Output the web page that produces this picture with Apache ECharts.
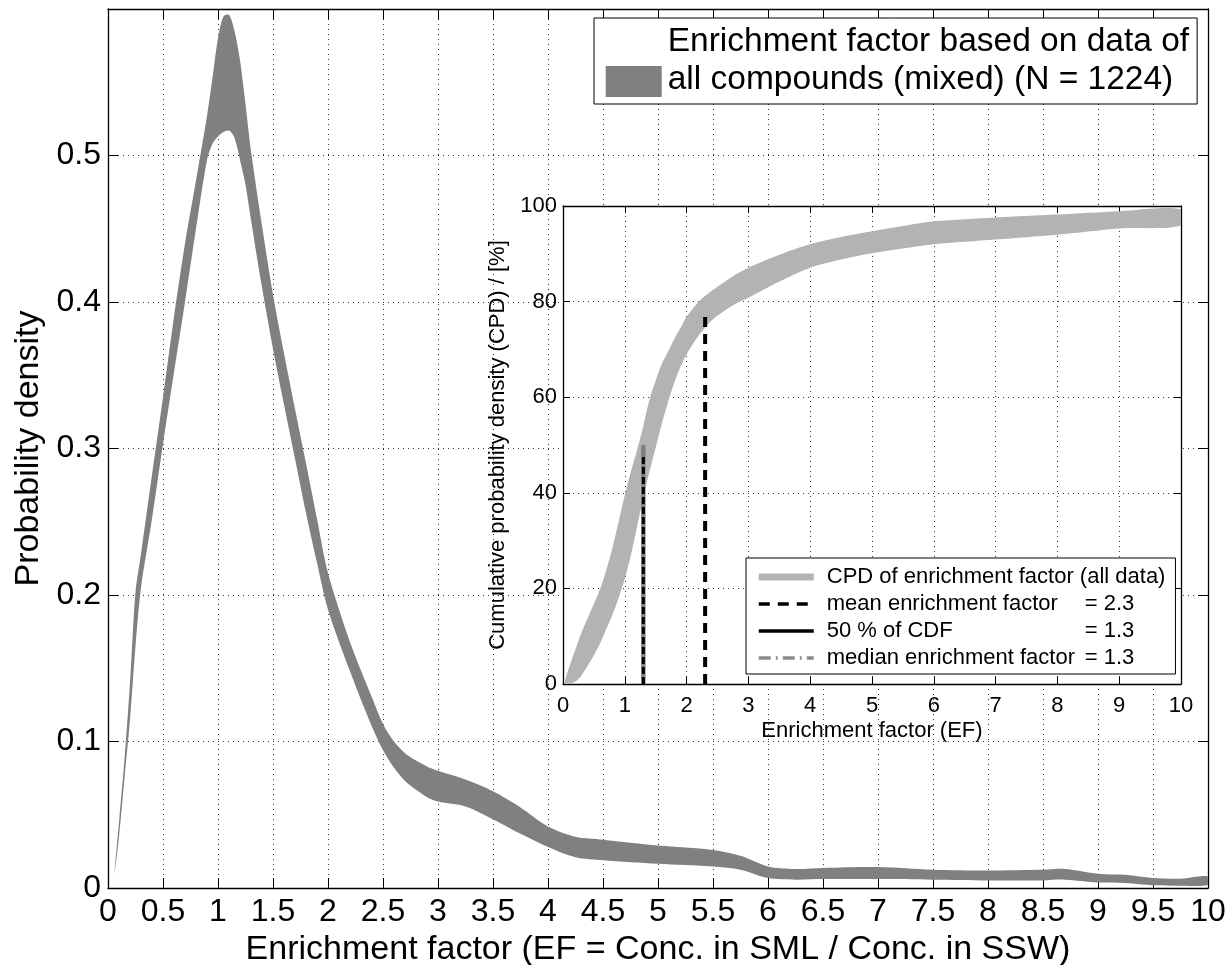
<!DOCTYPE html>
<html>
<head>
<meta charset="utf-8">
<script src="https://cdn.jsdelivr.net/npm/echarts@6/dist/echarts.min.js"></script>
<style>html,body{margin:0;padding:0;background:#fff}#c{width:1229px;height:965px}</style>
</head>
<body>
<div id="c"></div>
<script>
// ---------- main chart: probability density band ----------
const mainX = [0.06, 0.1, 0.15, 0.2, 0.25, 0.3, 0.4, 0.5, 0.6, 0.7, 0.8, 0.9, 0.95, 1.0, 1.05, 1.1, 1.15, 1.2, 1.25, 1.3, 1.4, 1.5, 1.6, 1.7, 1.8, 1.9, 2.0, 2.2, 2.4, 2.5, 2.6, 2.7, 2.8, 2.9, 3.0, 3.25, 3.5, 3.75, 4.0, 4.25, 4.5, 5.0, 5.5, 5.75, 6.0, 6.25, 6.5, 7.0, 7.5, 8.0, 8.5, 8.7, 9.0, 9.25, 9.5, 9.75, 10];
const mainUpper = [0.012, 0.045, 0.088, 0.14, 0.202, 0.228, 0.282, 0.335, 0.39, 0.44, 0.483, 0.527, 0.553, 0.580, 0.595, 0.596, 0.585, 0.565, 0.535, 0.503, 0.452, 0.405, 0.365, 0.327, 0.29, 0.252, 0.215, 0.168, 0.130, 0.112, 0.100, 0.092, 0.087, 0.083, 0.080, 0.074, 0.066, 0.055, 0.042, 0.035, 0.033, 0.029, 0.026, 0.022, 0.0147, 0.013, 0.0137, 0.0143, 0.0125, 0.012, 0.0125, 0.013, 0.0098, 0.009, 0.0068, 0.0063, 0.0079];
const mainLower = [0.010, 0.035, 0.075, 0.115, 0.165, 0.205, 0.252, 0.303, 0.352, 0.400, 0.450, 0.497, 0.508, 0.513, 0.516, 0.517, 0.512, 0.497, 0.48, 0.456, 0.41, 0.368, 0.33, 0.293, 0.256, 0.222, 0.19, 0.148, 0.110, 0.094, 0.082, 0.073, 0.067, 0.062, 0.059, 0.0557, 0.047, 0.037, 0.028, 0.021, 0.019, 0.0166, 0.0147, 0.0125, 0.0068, 0.0057, 0.0061, 0.0061, 0.0057, 0.0052, 0.0052, 0.0057, 0.0038, 0.0034, 0.0018, 0.0016, 0.0023];
const mainLegendLines = ['Enrichment factor based on data of', 'all compounds (mixed) (N = 1224)'];
const mainSeriesName = 'Enrichment factor based on data of all compounds (mixed) (N = 1224)';
const mainXTitle = 'Enrichment factor (EF = Conc. in SML / Conc. in SSW)';
const mainYTitle = 'Probability density';

// ---------- inset: cumulative probability density band ----------
const cpdX = [0.02, 0.05, 0.1, 0.2, 0.3, 0.4, 0.5, 0.6, 0.7, 0.8, 0.9, 1.0, 1.1, 1.2, 1.3, 1.4, 1.5, 1.6, 1.7, 1.8, 1.9, 2.0, 2.2, 2.4, 2.6, 2.8, 3.0, 3.5, 4.0, 4.5, 5.0, 5.5, 6.0, 7.0, 8.0, 9.0, 10.0];
const cpdUpper = [0, 1.5, 3.5, 7.2, 10.8, 13.8, 16.8, 19.8, 23.8, 28.5, 34, 39.5, 44.5, 49, 54, 59.5, 63.5, 67, 69.5, 72.2, 74.5, 76.8, 80, 82.2, 84, 85.7, 87.1, 89.8, 92.0, 93.5, 94.7, 95.8, 96.8, 97.6, 98.2, 98.9, 99.3];
const cpdLower = [0, 0, 0, 0.5, 1.8, 3.8, 6, 8.5, 11.5, 14.5, 18, 22, 27, 33, 39, 44.5, 49.5, 54.5, 59, 63, 66.3, 69, 73, 76, 78, 79.6, 80.8, 84.2, 87.1, 88.8, 90.1, 91.1, 92.0, 93.0, 94.0, 95.3, 95.9];
const meanEF = 2.3, meanTop = 76.8;
const cdf50EF = 1.3, cdf50Top = 48;
const medianEF = 1.3, medianTop = 50;
const insetNames = ['CPD of enrichment factor (all data)', 'mean enrichment factor', '50 % of CDF', 'median enrichment factor'];
const insetValues = ['', '= 2.3', '= 1.3', '= 1.3'];
const insetXTitle = 'Enrichment factor (EF)';
const insetYTitle = 'Cumulative probability density (CPD) / [%]';

const FONT = '"Liberation Sans", Arial, Helvetica, sans-serif';
const dotted = { color: '#333', width: 1, type: [1, 4] };

function axisBase(extra) {
  return Object.assign({
    type: 'value',
    axisLine: { show: true, onZero: false, lineStyle: { color: '#000', width: 1.3 } },
    axisTick: { show: true, inside: true, length: 10, lineStyle: { color: '#000', width: 1 } },
    splitLine: { show: false },
    axisLabel: { show: false }
  }, extra);
}

// band drawn as one polygon through the axes' coordinate system
function bandRenderer(xs, lo, hi, color) {
  return function (params, api) {
    if (params.dataIndex !== 0) return null;
    const pts = [];
    for (let i = 0; i < xs.length; i++) pts.push(api.coord([xs[i], hi[i]]));
    for (let i = xs.length - 1; i >= 0; i--) pts.push(api.coord([xs[i], lo[i]]));
    return {
      type: 'polygon',
      shape: { points: pts, smooth: 0.3 },
      style: { fill: color, stroke: null }
    };
  };
}

const chart = echarts.init(document.getElementById('c'), null, { renderer: 'canvas' });

const option = {
  backgroundColor: '#fff',
  animation: false,
  textStyle: { fontFamily: FONT, color: '#000' },
  grid: [
    { left: 108, right: 21, top: 9, bottom: 77, z: 0, containLabel: false, outerBoundsMode: 'none' },
    { left: 563, right: 48, top: 206, bottom: 281, show: true, backgroundColor: '#fff', borderWidth: 0, z: 5,
      containLabel: false, outerBoundsMode: 'none' }
  ],
  xAxis: [
    axisBase({ gridIndex: 0, position: 'bottom', min: 0, max: 10, interval: 0.5, z: 1,
      splitLine: { show: true, lineStyle: dotted },
      axisLabel: { show: true, fontSize: 32, color: '#000', fontFamily: FONT, margin: 8 },
      name: mainXTitle, nameLocation: 'middle', nameGap: 37,
      nameTextStyle: { fontSize: 34, color: '#000', fontFamily: FONT } }),
    axisBase({ gridIndex: 0, position: 'top', min: 0, max: 10, interval: 0.5, z: 1 }),
    axisBase({ gridIndex: 1, position: 'bottom', min: 0, max: 10, interval: 1, z: 6,
      axisTick: { show: true, inside: true, length: 7, lineStyle: { color: '#000' } },
      splitLine: { show: true, lineStyle: dotted },
      axisLabel: { show: true, fontSize: 22, color: '#000', fontFamily: FONT, margin: 11 },
      name: insetXTitle, nameLocation: 'middle', nameGap: 36,
      nameTextStyle: { fontSize: 22, color: '#000', fontFamily: FONT } }),
    axisBase({ gridIndex: 1, position: 'top', min: 0, max: 10, interval: 1, z: 6,
      axisTick: { show: true, inside: true, length: 7, lineStyle: { color: '#000' } } })
  ],
  yAxis: [
    axisBase({ gridIndex: 0, position: 'left', min: 0, max: 0.6, interval: 0.1, z: 1,
      splitLine: { show: true, lineStyle: dotted },
      axisLabel: { show: true, fontSize: 32, color: '#000', fontFamily: FONT, margin: 7,
        formatter: v => (v > 0.55 ? '' : String(Math.round(v * 10) / 10)) },
      name: mainYTitle, nameLocation: 'middle', nameGap: 61, nameRotate: 90,
      nameTextStyle: { fontSize: 34, color: '#000', fontFamily: FONT } }),
    axisBase({ gridIndex: 0, position: 'right', min: 0, max: 0.6, interval: 0.1, z: 1 }),
    axisBase({ gridIndex: 1, position: 'left', min: 0, max: 100, interval: 20, z: 6,
      axisTick: { show: true, inside: true, length: 7, lineStyle: { color: '#000' } },
      splitLine: { show: true, lineStyle: dotted },
      axisLabel: { show: true, fontSize: 22, color: '#000', fontFamily: FONT, margin: 6 },
      name: insetYTitle, nameLocation: 'middle', nameGap: 50, nameRotate: 90,
      nameTextStyle: { fontSize: 22, color: '#000', fontFamily: FONT } }),
    axisBase({ gridIndex: 1, position: 'right', min: 0, max: 100, interval: 20, z: 6,
      axisTick: { show: true, inside: true, length: 7, lineStyle: { color: '#000' } } })
  ],
  legend: [
    {
      data: [{ name: mainSeriesName, itemStyle: { color: '#808080', opacity: 1 } }],
      left: 594, top: 18, orient: 'vertical',
      backgroundColor: '#fff', borderColor: '#000', borderWidth: 1,
      padding: [4.5, 8, 4.7, 11.7],
      icon: 'path://M0,0h0.1v0.1h-0.1z M0,41h56v31h-56z',
      symbolKeepAspect: false,
      itemWidth: 56, itemHeight: 72,
      selectedMode: false,
      formatter: () => mainLegendLines.join('\n'),
      textStyle: { fontSize: 33.5, lineHeight: 38.4, color: '#000', fontFamily: FONT, padding: [0, 0, 0, 1] },
      z: 10
    },
    {
      data: [
        { name: insetNames[0], icon: 'path://M0,0h0.1v0.1h-0.1z M0,3.5h55v7h-55z M0,13.9h0.1v0.1h-0.1z',
          itemStyle: { color: '#b3b3b3', opacity: 1 } },
        { name: insetNames[1], lineStyle: { color: '#000', width: 3.5, type: [11, 8], opacity: 1 } },
        { name: insetNames[2], lineStyle: { color: '#000', width: 3.5, type: 'solid', opacity: 1 } },
        { name: insetNames[3], lineStyle: { color: '#8c8c8c', width: 3.5, type: [12, 5, 2, 5], opacity: 1 } }
      ],
      left: 746, top: 558, orient: 'vertical',
      backgroundColor: '#fff', borderColor: '#000', borderWidth: 1,
      padding: [7, 10, 4, 11],
      itemWidth: 55, itemHeight: 14, itemGap: 3,
      symbolKeepAspect: false,
      itemStyle: { opacity: 0 },
      selectedMode: false,
      formatter: name => {
        const i = insetNames.indexOf(name);
        return insetValues[i] ? '{a|' + name + '}{b|' + insetValues[i] + '}' : '{a|' + name + '}';
      },
      textStyle: {
        fontSize: 22, lineHeight: 24, color: '#000', fontFamily: FONT, padding: [0, 0, 0, 8],
        rich: {
          a: { fontSize: 22, fontFamily: FONT, color: '#000', width: 258 },
          b: { fontSize: 22, fontFamily: FONT, color: '#000' }
        }
      },
      z: 12
    }
  ],
  series: [
    {
      name: mainSeriesName, type: 'custom', coordinateSystem: 'cartesian2d',
      xAxisIndex: 0, yAxisIndex: 0, clip: true, silent: true,
      itemStyle: { color: '#808080' },
      data: mainX.map((x, i) => [x, mainLower[i], mainUpper[i]]),
      encode: { x: 0, y: [1, 2] },
      renderItem: bandRenderer(mainX, mainLower, mainUpper, '#808080'),
      z: 2
    },
    {
      name: insetNames[0], type: 'custom', coordinateSystem: 'cartesian2d',
      xAxisIndex: 2, yAxisIndex: 2, clip: true, silent: true,
      itemStyle: { color: '#b3b3b3' },
      data: cpdX.map((x, i) => [x, cpdLower[i], cpdUpper[i]]),
      encode: { x: 0, y: [1, 2] },
      renderItem: bandRenderer(cpdX, cpdLower, cpdUpper, '#b3b3b3'),
      z: 7
    },
    {
      name: insetNames[3], type: 'line', xAxisIndex: 2, yAxisIndex: 2,
      data: [[medianEF, 0], [medianEF, medianTop]],
      symbol: 'none', silent: true,
      itemStyle: { color: '#808080' },
      lineStyle: { color: '#808080', width: 4.5, type: 'solid', cap: 'butt' }, z: 8
    },
    {
      name: insetNames[2], type: 'line', xAxisIndex: 2, yAxisIndex: 2,
      data: [[cdf50EF, 0], [cdf50EF, cdf50Top]],
      symbol: 'none', silent: true,
      itemStyle: { color: '#000' },
      lineStyle: { color: '#000', width: 3, type: [7, 3], cap: 'butt' }, z: 9
    },
    {
      name: insetNames[1], type: 'line', xAxisIndex: 2, yAxisIndex: 2,
      data: [[meanEF, 0], [meanEF, meanTop]],
      symbol: 'none', silent: true,
      itemStyle: { color: '#000' },
      lineStyle: { color: '#000', width: 4, type: [10, 7], cap: 'butt' }, z: 9
    }
  ]
};
chart.setOption(option);
</script>
</body>
</html>
